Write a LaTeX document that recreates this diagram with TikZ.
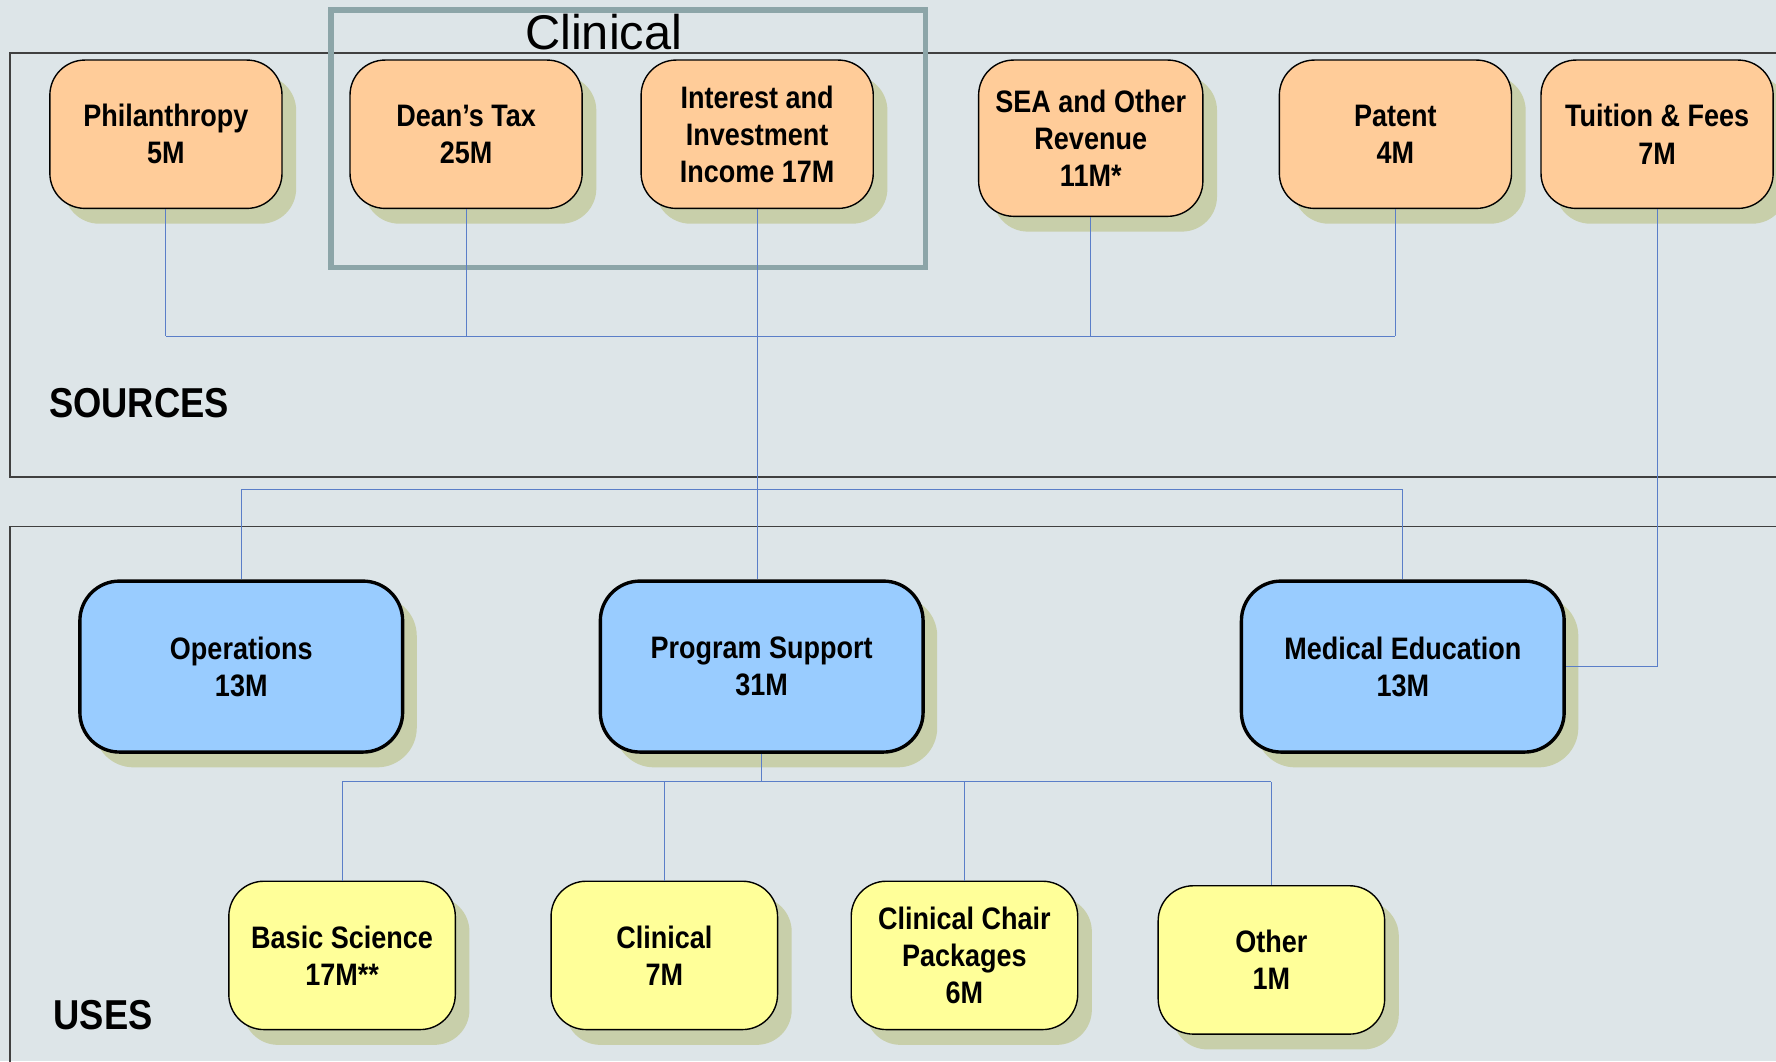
\documentclass[tikz,border=0pt]{standalone}
\usepackage{fontspec}
\setmainfont[FakeStretch=0.87]{Liberation Sans}
\newfontfamily\titlefont{Liberation Sans}
\usetikzlibrary{shadows}

\definecolor{bgcol}{HTML}{DDE5E8}
\definecolor{srccol}{HTML}{FFCC99}
\definecolor{usecol}{HTML}{99CCFF}
\definecolor{subcol}{HTML}{FFFF99}
\definecolor{shadowcol}{HTML}{C8CFAA}
\definecolor{linkcol}{HTML}{5A7EC8}
\definecolor{clincol}{HTML}{8CA5A8}

\tikzset{
  box/.style={draw=black, line width=0.7pt, rounded corners=0.62cm, align=center, inner sep=0pt,
    font=\fontsize{15.6}{18.7}\selectfont\bfseries,
    drop shadow={shadow xshift=0.25cm, shadow yshift=-0.27cm, fill=shadowcol, opacity=1}},
  srcbox/.style={box, fill=srccol, minimum width=4.1cm, minimum height=2.62cm},
  usebox/.style={box, fill=usecol, line width=1.7pt, rounded corners=0.7cm, minimum width=5.7cm, minimum height=3.02cm},
  subbox/.style={box, fill=subcol, minimum width=4.0cm, minimum height=2.62cm},
  link/.style={draw=linkcol, line width=0.5pt},
  frame/.style={draw=black!75, line width=0.8pt},
  heading/.style={font=\fontsize{21}{24}\selectfont\bfseries, inner sep=0pt}
}

\begin{document}
\begin{tikzpicture}[x=0.02cm, y=-0.02cm]
\fill[bgcol] (0,0) rectangle (1568,937);
\useasboundingbox (0,0) rectangle (1568,937);

% panels
\draw[frame] (1580,47) -- (9,47) -- (9,421) -- (1580,421);
\draw[frame] (1580,465) -- (9,465) -- (9,950);
\draw[draw=clincol, line width=2.8pt] (292,9) rectangle (817,236);
\node[anchor=base, inner sep=0pt, font=\titlefont\fontsize{24.5}{28}\selectfont] (clintitle) at (533,44) {Clinical};
\node[heading, anchor=base west] (sources) at (43,369) {SOURCES};
\node[heading, anchor=base west] (uses) at (47,909) {USES};

% sources
\node[srcbox] (phil) at (146.5,118.5) {Philanthropy\\5M};
\node[srcbox] (dean) at (411.5,118.5) {Dean’s Tax\\25M};
\node[srcbox] (interest) at (668.5,118.5) {Interest and\\Investment\\Income 17M};
\node[srcbox, minimum width=3.96cm, minimum height=2.76cm] (sea) at (963,122) {SEA and Other\\Revenue\\11M*};
\node[srcbox] (patent) at (1232,118.5) {Patent\\4M};
\node[srcbox] (tuition) at (1463,118.5) {Tuition \& Fees\\7M};

% uses
\node[usebox] (ops) at (213,588.5) {Operations\\13M};
\node[usebox] (progsup) at (672.5,588.5) {Program Support\\31M};
\node[usebox] (meded) at (1238.5,588.5) {Medical Education\\13M};

\node[subbox] (basic) at (302,843.5) {Basic Science\\17M**};
\node[subbox] (clin) at (586.5,843.5) {Clinical\\7M};
\node[subbox] (chair) at (851.5,843.5) {Clinical Chair\\Packages\\6M};
\node[subbox] (other) at (1122.5,847.5) {Other\\1M};

% connectors
\coordinate (srcbus) at (0,297);
\coordinate (usebus) at (0,432);
\coordinate (progbus) at (0,690);
\foreach \n in {phil,dean,sea,patent}{
\draw[link] (\n.south) -- (\n.south |- srcbus);
}
\draw[link] (phil.south |- srcbus) -- (patent.south |- srcbus);
\draw[link] (interest.south) -- (interest.south |- progsup.north);
\draw[link] (ops.north) -- (ops.north |- usebus) -- (meded.north |- usebus) -- (meded.north);
\draw[link] (tuition.south) |- (meded.east);
\draw[link] (progsup.south) -- (progsup.south |- progbus);
\draw[link] (basic.north |- progbus) -- (other.north |- progbus);
\foreach \n in {basic,clin,chair,other}{
\draw[link] (\n.north) -- (\n.north |- progbus);
}
\end{tikzpicture}
\end{document}
